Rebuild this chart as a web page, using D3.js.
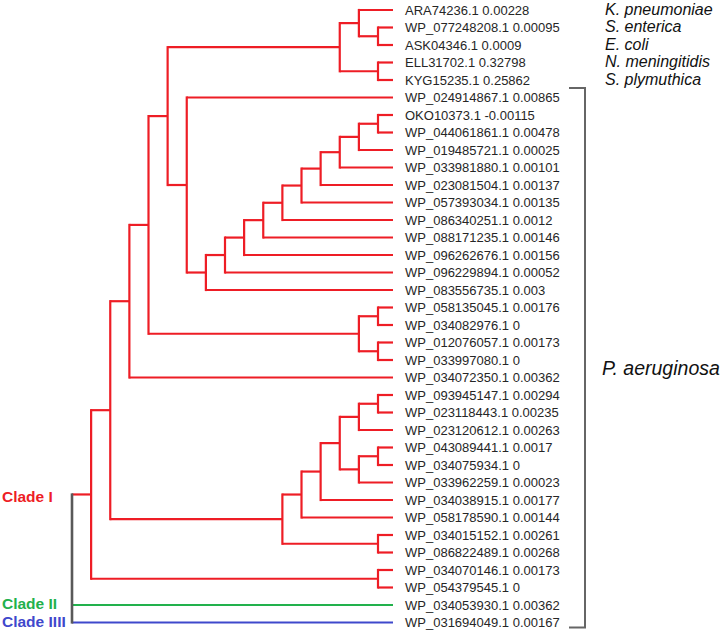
<!DOCTYPE html>
<html>
<head>
<meta charset="utf-8">
<script src="https://cdn.jsdelivr.net/npm/d3@7/dist/d3.min.js"></script>
<style>
  html, body { margin: 0; padding: 0; background: #fff; }
  svg { display: block; }
</style>
</head>
<body>
<svg id="chart" width="722" height="630"></svg>
<script>
// ---------------- DATA ----------------
const leafIds = [
  "ARA74236.1", "WP_077248208.1", "ASK04346.1", "ELL31702.1", "KYG15235.1",
  "WP_024914867.1", "OKO10373.1", "WP_044061861.1", "WP_019485721.1", "WP_033981880.1",
  "WP_023081504.1", "WP_057393034.1", "WP_086340251.1", "WP_088171235.1", "WP_096262676.1",
  "WP_096229894.1", "WP_083556735.1", "WP_058135045.1", "WP_034082976.1", "WP_012076057.1",
  "WP_033997080.1", "WP_034072350.1", "WP_093945147.1", "WP_023118443.1", "WP_023120612.1",
  "WP_043089441.1", "WP_034075934.1", "WP_033962259.1", "WP_034038915.1", "WP_058178590.1",
  "WP_034015152.1", "WP_086822489.1", "WP_034070146.1", "WP_054379545.1", "WP_034053930.1",
  "WP_031694049.1"
];
const leafValues = [
  0.00228, 0.00095, 0.0009, 0.32798, 0.25862,
  0.00865, -0.00115, 0.00478, 0.00025, 0.00101,
  0.00137, 0.00135, 0.0012, 0.00146, 0.00156,
  0.00052, 0.003, 0.00176, 0, 0.00173,
  0, 0.00362, 0.00294, 0.00235, 0.00263,
  0.0017, 0, 0.00023, 0.00177, 0.00144,
  0.00261, 0.00268, 0.00173, 0, 0.00362,
  0.00167
];
// tree topology: nested arrays of leaf indices
const ladder = [[[[[[[[[[6, 7], 8], 9], 10], 11], 12], 13], 14], 15], 16];
const cladeI = [
  [
    [
      [
        [
          [[[0, [1, 2]], [3, 4]], [5, ladder]],
          [[17, 18], [19, 20]]
        ],
        21
      ],
      [[[[[[22, 23], 24], [[25, 26], 27]], 28], 29], [30, 31]]
    ],
    [32, 33]
  ]
];
const treeShape = [cladeI[0], 34, 35];
const cladeNames = ["Clade I", "Clade II", "Clade IIII"];
const cladeColors = ["#ee1d25", "#22b14c", "#3f48cc"];
const speciesNames = ["K. pneumoniae", "S. enterica", "E. coli", "N. meningitidis", "S. plymuthica"];
const speciesLeaf = [0, 1, 2, 3, 4];
const groupName = "P. aeruginosa";
const groupRange = [5, 35];

// ---------------- LAYOUT ----------------
const svg = d3.select("#chart");
const rootColor = "#595959";
const labelX = 405, leafEnd = 393, speciesX = 605, bracketX = 585;

const root = d3.hierarchy(treeShape, d => Array.isArray(d) ? d : null);
const yScale = d3.scaleLinear().domain([0, leafIds.length - 1]).range([10, 622.5]);
const xScale = d3.scaleLinear().domain([1, root.height]).range([378, 72]);

root.eachAfter(n => {
  if (!n.children) {
    n.py = yScale(n.data);
    n.px = leafEnd;
  } else {
    n.py = (n.children[0].py + n.children[n.children.length - 1].py) / 2;
    n.px = xScale(n.height);
  }
});
root.children.forEach((c, i) => c.each(d => { d.clade = i; }));

const g = svg.append("g");
// horizontal branches
g.selectAll("line.h")
  .data(root.descendants().filter(d => d.parent))
  .join("line")
  .attr("class", "h")
  .attr("x1", d => d.parent.px).attr("x2", d => d.px)
  .attr("y1", d => d.py).attr("y2", d => d.py)
  .attr("stroke", d => cladeColors[d.clade])
  .attr("stroke-width", 2.2);
// vertical connectors
g.selectAll("line.v")
  .data(root.descendants().filter(d => d.children))
  .join("line")
  .attr("class", "v")
  .attr("x1", d => d.px).attr("x2", d => d.px)
  .attr("y1", d => d.children[0].py - 1.1)
  .attr("y2", d => d.children[d.children.length - 1].py + 1.1)
  .attr("stroke", d => d.parent ? cladeColors[d.clade] : rootColor)
  .attr("stroke-width", d => d.parent ? 2.2 : 2.6);

// leaf labels
g.selectAll("text.leaf")
  .data(root.leaves())
  .join("text")
  .attr("class", "leaf")
  .attr("x", labelX)
  .attr("y", d => d.py)
  .attr("dy", "0.36em")
  .attr("font-family", "Liberation Sans, Arial, sans-serif")
  .attr("font-size", 13)
  .attr("fill", "#262626")
  .text(d => leafIds[d.data] + " " + String(leafValues[d.data]));

// species labels
g.selectAll("text.sp")
  .data(speciesNames)
  .join("text")
  .attr("class", "sp")
  .attr("x", speciesX)
  .attr("y", (d, i) => yScale(speciesLeaf[i]) - 1)
  .attr("dy", "0.36em")
  .attr("font-family", "Liberation Sans, Arial, sans-serif")
  .attr("font-style", "italic")
  .attr("font-size", 16)
  .attr("fill", "#111")
  .text(d => d);

// bracket for P. aeruginosa
const bTop = yScale(groupRange[0]) - 9.5, bBot = yScale(groupRange[1]) + 5;
g.append("path")
  .attr("d", `M${bracketX - 16},${bTop}H${bracketX}V${bBot}H${bracketX - 16}`)
  .attr("fill", "none")
  .attr("stroke", "#666")
  .attr("stroke-width", 2);
g.append("text")
  .attr("x", speciesX - 3)
  .attr("y", (bTop + bBot) / 2 + 10)
  .attr("dy", "0.36em")
  .attr("font-family", "Liberation Sans, Arial, sans-serif")
  .attr("font-style", "italic")
  .attr("font-size", 19.5)
  .attr("fill", "#111")
  .text(groupName);

// clade labels
g.selectAll("text.clade")
  .data(root.children)
  .join("text")
  .attr("class", "clade")
  .attr("x", 2)
  .attr("y", d => d.py + (d.children ? 2 : -1.5))
  .attr("dy", "0.36em")
  .attr("font-family", "Liberation Sans, Arial, sans-serif")
  .attr("font-weight", "bold")
  .attr("font-size", 15.5)
  .attr("fill", d => cladeColors[d.clade])
  .text(d => cladeNames[d.clade]);
</script>
</body>
</html>
